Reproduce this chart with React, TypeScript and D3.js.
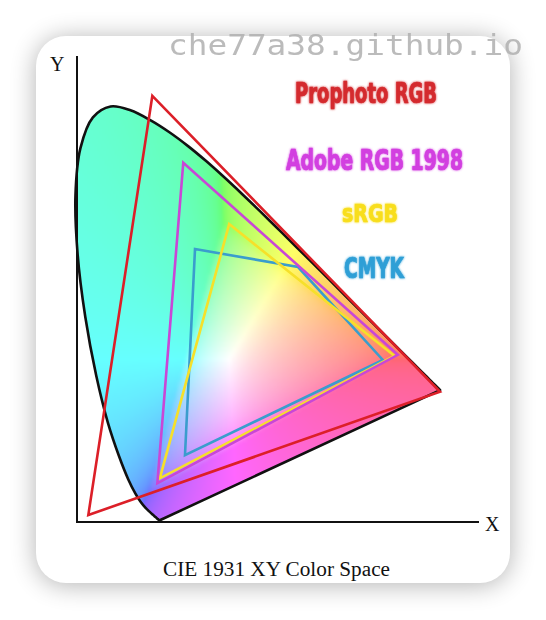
import React, { useMemo } from "react";
import * as d3 from "d3";

// CIE 1931 spectral locus chromaticities (380–700 nm)
const locusX = [0.1741, 0.1740, 0.1738, 0.1736, 0.1733, 0.1730, 0.1726, 0.1721, 0.1714, 0.1703, 0.1689, 0.1669, 0.1644, 0.1611, 0.1566, 0.1510, 0.1440, 0.1355, 0.1241, 0.1096, 0.0913, 0.0687, 0.0454, 0.0235, 0.0082, 0.0039, 0.0139, 0.0389, 0.0743, 0.1142, 0.1547, 0.1929, 0.2296, 0.2658, 0.3016, 0.3373, 0.3731, 0.4087, 0.4441, 0.4788, 0.5125, 0.5448, 0.5752, 0.6029, 0.6270, 0.6482, 0.6658, 0.6801, 0.6915, 0.7006, 0.7079, 0.7140, 0.7190, 0.7260, 0.7300, 0.7334, 0.7347];
const locusY = [0.0050, 0.0050, 0.0049, 0.0049, 0.0048, 0.0048, 0.0048, 0.0048, 0.0051, 0.0058, 0.0069, 0.0086, 0.0109, 0.0138, 0.0177, 0.0227, 0.0297, 0.0399, 0.0578, 0.0868, 0.1327, 0.2007, 0.2950, 0.4127, 0.5384, 0.6548, 0.7502, 0.8120, 0.8338, 0.8262, 0.8059, 0.7816, 0.7543, 0.7243, 0.6923, 0.6589, 0.6245, 0.5896, 0.5547, 0.5202, 0.4866, 0.4544, 0.4242, 0.3965, 0.3725, 0.3514, 0.3340, 0.3197, 0.3083, 0.2993, 0.2920, 0.2859, 0.2809, 0.2740, 0.2700, 0.2666, 0.2653];

// Gamut vertices (chromaticity x, y)
const prophotoX = [0.158, 0.7345, 0.0297];
const prophotoY = [0.855, 0.262, 0.015];
const adobeX = [0.220, 0.650, 0.168];
const adobeY = [0.721, 0.336, 0.0786];
const srgbX = [0.312, 0.643, 0.173];
const srgbY = [0.598, 0.334, 0.0886];
const cmykX = [0.2435, 0.450, 0.620, 0.2234];
const cmykY = [0.548, 0.512, 0.3257, 0.135];

const gamutNames = ["Prophoto RGB", "Adobe RGB 1998", "sRGB", "CMYK"];
const gamutColors = ["#dc1f28", "#c947d6", "#f6e02a", "#3a9dcd"];
const labelColors = ["#d42a2e", "#d23fe0", "#f8de1e", "#2f9fd6"];
const axisNames = ["X", "Y"];
const chartTitle = "CIE 1931 XY Color Space";
const watermark = "che77a38.github.io";

const W = 546;
const H = 620;
const K = 499;
const X0 = 73.5;
const Y0 = 522.5;

function chromaColor(x: number, y: number): string {
  const X = x / y;
  const Y = 1;
  const Z = (1 - x - y) / y;
  let r = 3.2406 * X - 1.5372 * Y - 0.4986 * Z;
  let g = -0.9689 * X + 1.8758 * Y + 0.0415 * Z;
  let b = 0.0557 * X - 0.204 * Y + 1.057 * Z;
  const mn = Math.min(r, g, b, 0);
  r -= mn; g -= mn; b -= mn;
  const mx = Math.max(r, g, b, 1e-6);
  r /= mx; g /= mx; b /= mx;
  const gm = (v: number) => Math.pow(v, 1 / 2.2);
  const w = 0.4;
  const f = (v: number) => Math.round(255 * (w + (1 - w) * gm(v)));
  return `rgb(${f(r)},${f(g)},${f(b)})`;
}

export default function App() {
  const xScale = d3.scaleLinear().domain([0, 0.8]).range([X0, X0 + 0.8 * K]);
  const yScale = d3.scaleLinear().domain([0, 0.9]).range([Y0, Y0 - 0.9 * K]);

  const locusPts: [number, number][] = locusX.map((x, i) => [x, locusY[i]]);
  const locusLine = d3
    .line<[number, number]>()
    .x((d) => xScale(d[0]))
    .y((d) => yScale(d[1]))
    .curve(d3.curveCatmullRom);
  const locusPath = locusLine(locusPts) + "Z";

  const cells = useMemo(() => {
    const step = 0.005;
    const out: { x: number; y: number; c: string }[] = [];
    const m = 0.012;
    for (let x = 0; x <= 0.75; x += step) {
      for (let y = 0.0; y <= 0.85; y += step) {
        const cx = x + step / 2;
        const cy = y + step / 2;
        const inside =
          d3.polygonContains(locusPts, [cx, cy]) ||
          d3.polygonContains(locusPts, [cx + m, cy]) ||
          d3.polygonContains(locusPts, [cx - m, cy]) ||
          d3.polygonContains(locusPts, [cx, cy + m]) ||
          d3.polygonContains(locusPts, [cx, cy - m]);
        if (inside) out.push({ x, y, c: chromaColor(cx, Math.max(cy, 0.002)) });
      }
    }
    return out;
  }, []);

  const gamuts = [
    { xs: prophotoX, ys: prophotoY },
    { xs: adobeX, ys: adobeY },
    { xs: srgbX, ys: srgbY },
    { xs: cmykX, ys: cmykY },
  ];
  const polyLine = d3
    .line<[number, number]>()
    .x((d) => xScale(d[0]))
    .y((d) => yScale(d[1]));

  const cellW = xScale(0.005) - xScale(0) + 0.6;
  const cellH = yScale(0) - yScale(0.005) + 0.6;

  const labelPos = [
    { x: 295, y: 103, len: 142, fs: 28 },
    { x: 286, y: 170, len: 177, fs: 28 },
    { x: 342, y: 222, len: 56, fs: 25 },
    { x: 344, y: 278, len: 60, fs: 28 },
  ];

  const axisLeft = 77;
  const axisBottom = 522;

  return (
    <svg
      width={W}
      height={H}
      style={{ position: "absolute", left: 0, top: 0, display: "block" }}
    >
      <defs>
        <filter id="shadow" x="-20%" y="-20%" width="140%" height="140%">
          <feGaussianBlur stdDeviation="13" />
        </filter>
        <filter id="soft" x="-5%" y="-5%" width="110%" height="110%">
          <feGaussianBlur stdDeviation="1.5" />
        </filter>
        <filter id="glow" x="-10%" y="-30%" width="120%" height="160%">
          <feGaussianBlur in="SourceGraphic" stdDeviation="1.2" result="b" />
          <feMerge>
            <feMergeNode in="b" />
            <feMergeNode in="SourceGraphic" />
          </feMerge>
        </filter>
        <clipPath id="locusClip">
          <path d={locusPath} />
        </clipPath>
      </defs>
      <rect x={0} y={0} width={W} height={H} fill="#ffffff" />
      <rect x={36} y={38} width={474} height={547} rx={30} fill="#000" opacity={0.3} filter="url(#shadow)" />
      <rect x={36} y={36} width={474} height={547} rx={30} fill="#ffffff" />

      {/* colour fill */}
      <g clipPath="url(#locusClip)">
        <g filter="url(#soft)">
          {cells.map((d, i) => (
            <rect
              key={i}
              x={xScale(d.x)}
              y={yScale(d.y) - cellH + 0.6}
              width={cellW}
              height={cellH}
              fill={d.c}
              shapeRendering="crispEdges"
            />
          ))}
        </g>
      </g>
      <path d={locusPath} fill="none" stroke="#111" strokeWidth={2.6} strokeLinejoin="round" />

      {/* axes */}
      <line x1={axisLeft} y1={56} x2={axisLeft} y2={axisBottom + 1} stroke="#111" strokeWidth={2} />
      <line x1={axisLeft - 1} y1={axisBottom} x2={479} y2={axisBottom} stroke="#111" strokeWidth={2} />
      <text x={485} y={531} fontFamily="'Liberation Serif', 'Times New Roman', serif" fontSize={20} fill="#111">
        {axisNames[0]}
      </text>
      <text x={50} y={71} fontFamily="'Liberation Serif', 'Times New Roman', serif" fontSize={20} fill="#111">
        {axisNames[1]}
      </text>

      {/* gamut outlines */}
      {gamuts.map((gm, gi) => {
        const pts: [number, number][] = gm.xs.map((x, i) => [x, gm.ys[i]]);
        return (
          <path
            key={gi}
            d={polyLine(pts) + "Z"}
            fill="none"
            stroke={gamutColors[gi]}
            strokeWidth={2.6}
            strokeLinejoin="miter"
          />
        );
      }).reverse()}

      {/* labels */}
      {gamutNames.map((name, i) => (
        <text
          key={name}
          x={labelPos[i].x}
          y={labelPos[i].y}
          textLength={labelPos[i].len}
          lengthAdjust="spacingAndGlyphs"
          fontFamily="'Liberation Sans Narrow', 'DejaVu Sans Condensed', 'Roboto', sans-serif"
          fontWeight={700}
          fontSize={labelPos[i].fs}
          fill={labelColors[i]}
          stroke={labelColors[i]}
          strokeWidth={0.7}
          filter="url(#glow)"
        >
          {name}
        </text>
      ))}

      <text
        x={163}
        y={576}
        textLength={227}
        lengthAdjust="spacingAndGlyphs"
        fontFamily="'Liberation Serif', 'Times New Roman', serif"
        fontSize={20.5}
        fill="#111"
      >
        {chartTitle}
      </text>

      <text
        x={168}
        y={55}
        textLength={355}
        lengthAdjust="spacingAndGlyphs"
        fontFamily="'DejaVu Sans Mono', 'Liberation Mono', monospace"
        fontSize={29}
        fill="#b0b0b0"
        opacity={0.85}
      >
        {watermark}
      </text>
    </svg>
  );
}
